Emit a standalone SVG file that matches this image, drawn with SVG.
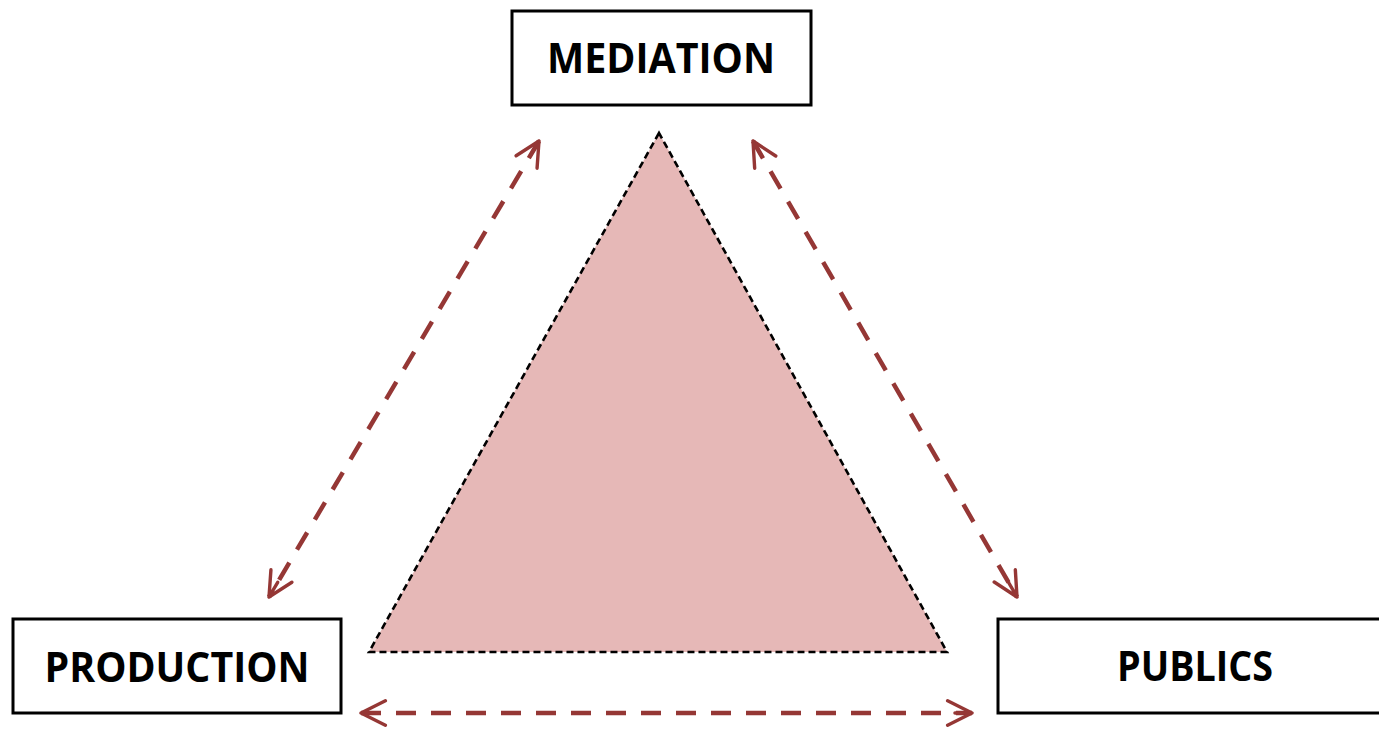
<svg xmlns="http://www.w3.org/2000/svg" width="1379" height="730" viewBox="0 0 1379 730">
<style>
.box{fill:#fff;stroke:#000;stroke-width:3}
.lbl{font-family:"Open Sans","Noto Sans",sans-serif;font-weight:bold;font-size:41px;fill:#000;text-anchor:middle}
.conn{fill:none;stroke:#953735;stroke-width:4.5;stroke-dasharray:20 15}
</style>
<defs>
<marker id="ah" viewBox="0 0 12 12" refX="11" refY="6" markerWidth="6.5" markerHeight="6.5" markerUnits="strokeWidth" orient="auto-start-reverse">
<path d="M1,1 L11,6 L1,11 M4,6 L11,6" fill="none" stroke="#953735" stroke-width="1.4" stroke-linecap="round" stroke-linejoin="round"/>
</marker>
</defs>
<polygon id="triangle" points="659,133 369,652 947,652" fill="#e6b8b7" stroke="#000" stroke-width="2.6" stroke-dasharray="7 4"/>
<g id="connectors">
<line class="conn" x1="539" y1="141" x2="269" y2="597" marker-start="url(#ah)" marker-end="url(#ah)"/>
<line class="conn" x1="753" y1="141" x2="1017" y2="597" marker-start="url(#ah)" marker-end="url(#ah)"/>
<line class="conn" x1="361" y1="713" x2="972" y2="713" marker-start="url(#ah)" marker-end="url(#ah)"/>
</g>
<g id="mediation">
<rect class="box" x="512" y="11" width="299" height="94"/>
<text class="lbl" x="661" y="73" textLength="228" lengthAdjust="spacingAndGlyphs">MEDIATION</text>
</g>
<g id="production">
<rect class="box" x="13" y="619" width="328" height="94"/>
<text class="lbl" x="177" y="682" textLength="265" lengthAdjust="spacingAndGlyphs">PRODUCTION</text>
</g>
<g id="publics">
<rect class="box" x="998" y="619" width="390" height="94"/>
<text class="lbl" x="1195" y="681" textLength="156" lengthAdjust="spacingAndGlyphs">PUBLICS</text>
</g>
</svg>
